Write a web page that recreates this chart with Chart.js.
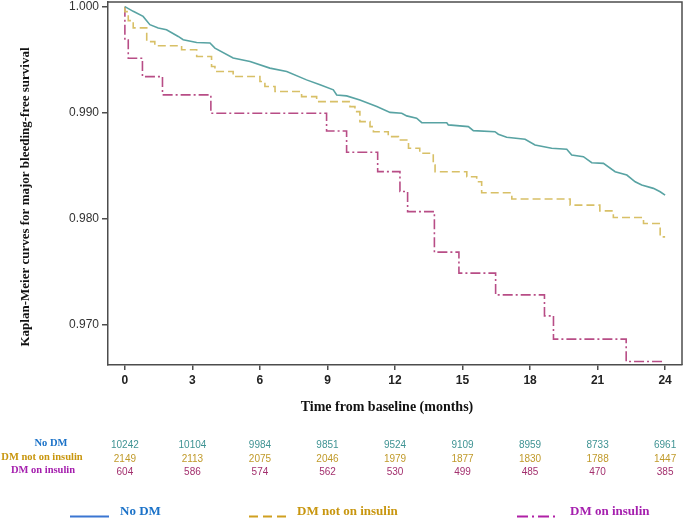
<!DOCTYPE html>
<html><head><meta charset="utf-8">
<script src="https://cdn.jsdelivr.net/npm/chart.js@4"></script>
<style>html,body{margin:0;padding:0;background:#fff}</style>
</head><body>
<canvas id="c" width="685" height="520"></canvas>
<script>
// ---- data ----
const months = [0, 3, 6, 9, 12, 15, 18, 21, 24];
const yTicks = [0.970, 0.980, 0.990, 1.000];

const noDmT = [0, 0.37, 0.81, 1.11, 1.48, 1.85, 2.37, 2.59, 3.19, 3.78, 4.0, 4.81, 5.56, 6.44, 7.19, 8.07, 8.67, 9.26, 9.41, 9.85, 10.44, 11.19, 11.78, 12.30, 12.52, 12.96, 13.19, 14.30, 14.37, 15.26, 15.48, 16.44, 16.59, 16.96, 17.78, 18.22, 18.96, 19.63, 19.85, 20.37, 20.74, 21.26, 21.78, 22.30, 22.67, 22.96, 23.48, 23.78, 24.0];
const noDmS = [1.0, 0.99956, 0.99908, 0.99830, 0.99798, 0.99782, 0.99719, 0.99688, 0.99662, 0.99657, 0.99609, 0.99515, 0.99482, 0.99420, 0.99388, 0.99309, 0.99262, 0.99215, 0.99167, 0.99158, 0.99120, 0.99057, 0.99002, 0.98994, 0.98969, 0.98947, 0.98905, 0.98905, 0.98884, 0.98868, 0.98830, 0.98820, 0.98796, 0.98767, 0.98748, 0.98694, 0.98663, 0.98654, 0.98600, 0.98584, 0.98527, 0.98521, 0.98442, 0.98411, 0.98347, 0.98316, 0.98285, 0.98253, 0.98221];

const notInsT = [0, 0.15, 0.37, 0.97, 1.33, 2.52, 3.19, 3.85, 4.0, 4.81, 6.0, 6.22, 6.67, 7.85, 8.52, 10.0, 10.22, 10.44, 10.89, 11.04, 11.7, 12.15, 12.6, 13.1, 13.7, 13.78, 15.19, 15.63, 15.85, 17.19, 19.78, 21.1, 21.7, 23.04, 23.78, 24.0];
const notInsS = [1.0, 0.99953, 0.99868, 0.99800, 0.99670, 0.99631, 0.99593, 0.99530, 0.99435, 0.99388, 0.99341, 0.99293, 0.99246, 0.99199, 0.99151, 0.99104, 0.99057, 0.99009, 0.98915, 0.98868, 0.98820, 0.98773, 0.98742, 0.98663, 0.98616, 0.98505, 0.98442, 0.98395, 0.98347, 0.98243, 0.98185, 0.98127, 0.98073, 0.98010, 0.97953, 0.97827];

const insT = [0, 0.15, 0.78, 1.67, 3.82, 8.96, 9.85, 11.23, 12.22, 12.56, 13.75, 14.84, 16.47, 18.64, 19.04, 22.27, 22.74, 23.93];
const insS = [1.0, 0.99686, 0.99513, 0.99340, 0.99167, 0.98994, 0.98827, 0.98626, 0.98443, 0.98255, 0.98066, 0.97683, 0.97485, 0.97280, 0.97082, 0.96862, 0.96651, 0.96651];

const riskNoDM = [10242, 10104, 9984, 9851, 9524, 9109, 8959, 8733, 6961];
const riskNotIns = [2149, 2113, 2075, 2046, 1979, 1877, 1830, 1788, 1447];
const riskIns = [604, 586, 574, 562, 530, 499, 485, 470, 385];

const groupNames = ['No DM', 'DM not on insulin', 'DM on insulin'];
const yTitle = 'Kaplan-Meier curves for major bleeding-free survival';
const xTitle = 'Time from baseline (months)';

// ---- styles ----
const curveColors = ['#58a3a3', '#d8c067', '#b84d86'];
const labelColors = ['#1b72c8', '#c8960f', '#a51fae'];
const numColors = ['#3f9393', '#c09a2a', '#a3306e'];
const legendLineColors = ['#3b76d2', '#d0a020', '#b020a6'];
const axisColor = '#4d4d4d';
const serif = '"Liberation Serif", "Times New Roman", serif';
const sans = '"Liberation Sans", Arial, sans-serif';

const pts = (t, s) => t.map((x, i) => ({x: x, y: s[i]}));

const extras = {
  id: 'extras',
  afterDraw(chart) {
    const ctx = chart.ctx, a = chart.chartArea, xs = chart.scales.x;
    ctx.save();
    // top and right border of the box
    ctx.strokeStyle = axisColor; ctx.lineWidth = 1.5;
    ctx.beginPath();
    ctx.moveTo(a.left, a.top); ctx.lineTo(a.right, a.top); ctx.lineTo(a.right, a.bottom);
    ctx.stroke();

    // y title
    ctx.fillStyle = '#111';
    ctx.font = 'bold 13px ' + serif;
    ctx.textAlign = 'center'; ctx.textBaseline = 'middle';
    ctx.save();
    ctx.translate(26, 197); ctx.rotate(-Math.PI / 2);
    ctx.fillText(yTitle, 0, 0);
    ctx.restore();

    // x title
    ctx.font = 'bold 14px ' + serif;
    ctx.fillText(xTitle, 387, 407);

    // risk table
    const rowsY = [445, 459, 472];
    const labelX = [51, 42, 43];
    const rows = [riskNoDM, riskNotIns, riskIns];
    for (let r = 0; r < 3; r++) {
      ctx.font = 'bold 10.5px ' + serif;
      ctx.fillStyle = labelColors[r];
      ctx.fillText(groupNames[r], labelX[r], rowsY[r] - 2);
      ctx.font = '10px ' + sans;
      ctx.fillStyle = numColors[r];
      rows[r].forEach((v, i) => ctx.fillText(String(v), xs.getPixelForValue(months[i]), rowsY[r]));
    }

    // legend
    const leg = [
      {x0: 70, x1: 109, tx: 120, dash: []},
      {x0: 249, x1: 290, tx: 297, dash: [9, 5]},
      {x0: 517, x1: 556, tx: 570, dash: [11, 4, 2, 4]}
    ];
    ctx.textAlign = 'left';
    ctx.font = 'bold 13px ' + serif;
    leg.forEach((l, i) => {
      ctx.strokeStyle = legendLineColors[i]; ctx.lineWidth = 2;
      ctx.setLineDash(l.dash);
      ctx.beginPath(); ctx.moveTo(l.x0, 516.5); ctx.lineTo(l.x1, 516.5); ctx.stroke();
      ctx.setLineDash([]);
      ctx.fillStyle = labelColors[i];
      ctx.fillText(groupNames[i], l.tx, 512);
    });
    ctx.restore();
  }
};

new Chart(document.getElementById('c'), {
  type: 'line',
  data: {
    datasets: [
      {label: groupNames[0], data: pts(noDmT, noDmS), borderColor: curveColors[0], borderWidth: 1.6, pointRadius: 0, tension: 0, fill: false},
      {label: groupNames[1], data: pts(notInsT, notInsS), borderColor: curveColors[1], borderWidth: 1.6, pointRadius: 0, stepped: 'after', borderDash: [8, 4], fill: false},
      {label: groupNames[2], data: pts(insT, insS), borderColor: curveColors[2], borderWidth: 1.6, pointRadius: 0, stepped: 'after', borderDash: [10, 3, 2, 3], fill: false}
    ]
  },
  options: {
    responsive: false,
    animation: false,
    devicePixelRatio: 1,
    layout: {padding: {left: 0, right: 3, top: 2, bottom: 95}},
    plugins: {legend: {display: false}, tooltip: {enabled: false}},
    scales: {
      x: {
        type: 'linear', min: -0.75, max: 24.75,
        afterBuildTicks(s) { s.ticks = months.map(v => ({value: v})); },
        afterFit(s) { s.height = 60; s.paddingLeft = 0; s.paddingRight = 0; },
        ticks: {autoSkip: false, maxRotation: 0, padding: 3, color: '#222',
          font: {family: '"Liberation Sans Narrow", "Liberation Sans", sans-serif', size: 12, weight: 'bold'}},
        grid: {drawOnChartArea: false, drawTicks: true, tickLength: 5, color: axisColor, lineWidth: 1.5},
        border: {display: true, color: axisColor, width: 1.5}
      },
      y: {
        min: 0.96618, max: 1.00044,
        afterBuildTicks(s) { s.ticks = yTicks.map(v => ({value: v})); },
        afterFit(s) { s.width = 108; s.paddingTop = 0; s.paddingBottom = 0; },
        ticks: {callback: v => Number(v).toFixed(3), padding: 3, color: '#333',
          font: {family: sans, size: 12}},
        grid: {drawOnChartArea: false, drawTicks: true, tickLength: 6, color: axisColor, lineWidth: 1.5},
        border: {display: true, color: axisColor, width: 1.5}
      }
    }
  },
  plugins: [extras]
});
</script>
</body></html>
